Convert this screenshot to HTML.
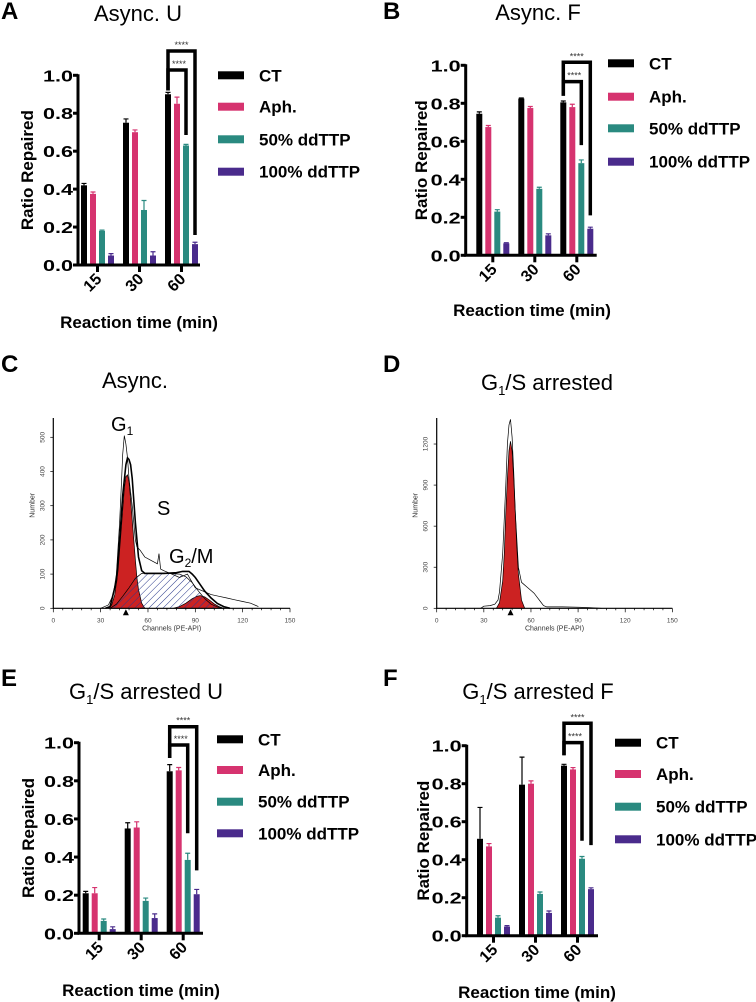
<!DOCTYPE html>
<html><head><meta charset="utf-8">
<style>
html,body{margin:0;padding:0;background:#fff;}
svg{display:block;font-family:"Liberation Sans",Arial,sans-serif;}
</style></head>
<body>
<svg id="fig" width="756" height="1002" viewBox="0 0 756 1002" xmlns="http://www.w3.org/2000/svg">
<defs>
<pattern id="hatch" patternUnits="userSpaceOnUse" width="5" height="5" patternTransform="rotate(45)">
<line x1="0" y1="0" x2="0" y2="5" stroke="#2b3a8c" stroke-width="1"/>
</pattern>
</defs>
</svg>
<script>
// ---------- shared data ----------
const groups = ['15','30','60'];
const seriesNames = ['CT','Aph.','50% ddTTP','100% ddTTP'];
const seriesColors = ['#000000','#d6336f','#2a8a80','#4a2b8c'];
const yTicks = [0,0.2,0.4,0.6,0.8,1.0];
const yTickLabels = ['0.0','0.2','0.4','0.6','0.8','1.0'];

// Panel A
const aCT=[0.42,0.75,0.90], aCTerr=[0.01,0.02,0.01];
const aAph=[0.375,0.70,0.85], aAphErr=[0.01,0.012,0.035];
const a50=[0.18,0.29,0.63], a50Err=[0.004,0.05,0.006];
const a100=[0.05,0.05,0.11], a100Err=[0.01,0.02,0.01];
const aBrackets=[1.128,1.028,0.92,0.685,0.158];
// Panel B
const bCT=[0.745,0.825,0.805], bCTerr=[0.01,0.003,0.007];
const bAph=[0.675,0.775,0.78], bAphErr=[0.008,0.008,0.015];
const b50=[0.23,0.35,0.485], b50Err=[0.01,0.008,0.017];
const b100=[0.063,0.105,0.14], b100Err=[0.003,0.008,0.008];
const bBrackets=[1.016,0.914,0.84,0.58,0.21];
// Panel E
const eCT=[0.21,0.55,0.85], eCTerr=[0.01,0.03,0.035];
const eAph=[0.21,0.555,0.855], eAphErr=[0.03,0.03,0.015];
const e50=[0.065,0.17,0.385], e50Err=[0.01,0.015,0.035];
const e100=[0.022,0.08,0.205], e100Err=[0.012,0.022,0.025];
const eBrackets=[1.084,0.988,0.92,0.525,0.33];
// Panel F
const fCT=[0.51,0.795,0.895], fCTerr=[0.165,0.145,0.007];
const fAph=[0.47,0.80,0.875], fAphErr=[0.015,0.015,0.01];
const f50=[0.095,0.22,0.405], f50Err=[0.01,0.01,0.012];
const f100=[0.048,0.12,0.245], f100Err=[0.005,0.01,0.007];
const fBrackets=[1.118,1.016,0.95,0.50,0.477];

// Flow C (channel, count)
const cDataX=[30,35,38,40,42,43,44,45,46,47,48,50,52,53,55,58,62,66,67,68,70,75,80,85,90,95,100,105,110,115,120,125,130];
const cDataY=[0,10,40,100,250,350,450,505,480,440,380,300,200,180,170,150,140,130,160,115,110,100,90,100,60,50,40,35,30,25,20,15,5];
const cModelX=[33,36,40,42,44,46,47,48,49,50,52,54,56,58,62,70,78,82,86,88,90,93,96,100,104,108,112];
const cModelY=[0,5,80,200,330,420,440,435,420,380,250,150,110,102,102,102,104,108,108,100,90,70,50,30,14,5,0];
const cG1X=[35,37,39,41,43,45,46,47,48,49,50,51,52,53,54,56,58];
const cG1Y=[0,10,40,110,230,350,385,390,370,320,260,200,140,90,55,15,0];
const cSX=[36,40,44,48,52,56,60,70,80,84,88,92,96,100,104,108];
const cSY=[0,12,35,60,88,102,103,103,100,92,75,50,28,12,4,0];
const cG2X=[76,80,84,88,91,93,96,99,102,105,108];
const cG2Y=[0,5,15,28,35,37,33,24,13,5,0];
const cYTicks=[0,100,200,300,400,500];
const flowXTicks=[0,30,60,90,120,150];
// Flow D
const dDataX=[28,30,34,37,39,40,42,44,45,46,47,48,49,50,52,54,55,57,60,62,64,66,68,70,75,80,90,95,100,105];
const dDataY=[0,15,20,30,60,120,400,900,1200,1340,1380,1250,1000,700,300,190,180,160,130,110,80,50,20,10,10,10,8,6,3,0];
const dG1X=[38,40,42,43,44,45,46,47,48,49,50,51,52,54,56];
const dG1Y=[0,40,200,400,700,950,1150,1220,1150,950,700,450,250,60,0];
const dYTicks=[0,300,600,900,1200];

const NS='http://www.w3.org/2000/svg';
const svg=document.getElementById('fig');
function el(tag,attrs,parent){const e=document.createElementNS(NS,tag);for(const k in attrs)e.setAttribute(k,attrs[k]);(parent||svg).appendChild(e);return e;}
function txt(str,attrs,parent){const t=el('text',attrs,parent);t.textContent=str;return t;}

// ---------- bar panels ----------
function barPanel(cfg){
  const g=el('g',{});
  
  
  const yS=v=>cfg.y0-(cfg.y0-cfg.y1)*v;
  const barX=(gi,si)=>cfg.first+gi*42+si*9;
  const L=txt(cfg.letter,{x:cfg.letterX,y:cfg.letterY,'font-size':24,'font-weight':'bold'},g);
  
  
  const T=txt(cfg.title,{x:cfg.titleX,y:cfg.titleY,'font-size':22,'text-anchor':'middle'},g);
  
  
  if(cfg.sub){T.textContent='';const t1=el('tspan',{},T);t1.textContent='G';const t2=el('tspan',{'font-size':13,dy:5},T);t2.textContent='1';const t3=el('tspan',{dy:-5},T);t3.textContent=cfg.title.slice(2);}
  // bars
  cfg.vals.forEach((arr,si)=>{
    arr.forEach((v,gi)=>{
      const cx=barX(gi,si);
      const b=el('rect',{x:cx-3,y:yS(v),width:6,height:cfg.y0-yS(v),fill:seriesColors[si]},g);
      
      
      const e=cfg.errs[si][gi];
      const eb=el('path',{d:`M${cx} ${yS(v)} V${yS(v+e)} M${cx-2.5} ${yS(v+e)} H${cx+2.5}`,stroke:seriesColors[si],'stroke-width':1.2,fill:'none'},g);
      
      
    });
  });
  // axes
  const ax=el('path',{d:`M${cfg.axisX} ${cfg.y1-1} V${cfg.y0} H${cfg.xEnd}`,stroke:'#000','stroke-width':3,fill:'none'},g);
  
  
  yTicks.forEach((v,i)=>{
    const tk=el('line',{x1:cfg.axisX-5,x2:cfg.axisX,y1:yS(v),y2:yS(v),stroke:'#000','stroke-width':3},g);
    
    
    const tl=txt(yTickLabels[i],{x:cfg.axisX-5,y:yS(v)+6,'font-size':16,'font-weight':'bold','text-anchor':'end',textLength:30,lengthAdjust:'spacingAndGlyphs'},g);
    
    
  });
  groups.forEach((lab,gi)=>{
    const cx=barX(gi,0)+13.5;
    const tk=el('line',{x1:cx,x2:cx,y1:cfg.y0,y2:cfg.y0+7,stroke:'#000','stroke-width':3},g);
    
    
    const tl=txt(lab,{x:cx+5,y:cfg.y0+15,'font-size':16,'font-weight':'bold','text-anchor':'end',transform:`rotate(-45 ${cx+5} ${cfg.y0+15})`},g);
    
    
  });
  const yt=txt('Ratio Repaired',{x:0,y:0,'font-size':17,'font-weight':'bold','text-anchor':'middle',transform:`translate(${cfg.yTitleX} ${(cfg.y0+cfg.y1)/2}) rotate(-90)`},g);
  
  
  const xt=txt('Reaction time (min)',{x:cfg.xTitleX,y:cfg.xTitleY,'font-size':17,'font-weight':'bold','text-anchor':'middle'},g);
  
  
  // legend
  seriesNames.forEach((n,si)=>{
    const sw=el('rect',{x:cfg.legX,y:cfg.legY[si]-4,width:26,height:8,fill:seriesColors[si]},g);
    
    
    const lt=txt(n,{x:cfg.legX+41,y:cfg.legY[si]+6,'font-size':17,'font-weight':'bold'},g);
    
    
  });
  // significance brackets
  const br=cfg.brackets;
  const xCT=barX(2,0), x50=barX(2,2), x100=barX(2,3);
  const o=el('path',{d:`M${xCT} ${yS(br[2])} V${yS(br[0])} H${x100} V${yS(br[4])}`,stroke:'#000','stroke-width':3.5,fill:'none'},g);
  
  
  const inn=el('path',{d:`M${xCT} ${yS(br[2])} V${yS(br[1])} H${x50} V${yS(br[3])}`,stroke:'#000','stroke-width':3.5,fill:'none'},g);
  
  
  const s1=txt('****',{x:(xCT+x100)/2,y:yS(br[0])-3,'font-size':9,'text-anchor':'middle',fill:'#333'},g);
  
  
  const s2=txt('****',{x:(xCT+x50)/2+2,y:yS(br[1])-3,'font-size':9,'text-anchor':'middle',fill:'#333'},g);
  
  
}

barPanel({name:'panel-a',letter:'A',letterX:1,letterY:19,title:'Async. U',titleX:138,titleY:21,axisX:78,y0:265,y1:75.3,xEnd:200,first:84,
  legX:218,legY:[75.3,106.7,139.3,171.7],yTitleX:33,xTitleX:139,xTitleY:328,
  vals:[aCT,aAph,a50,a100],errs:[aCTerr,aAphErr,a50Err,a100Err],brackets:aBrackets});
barPanel({name:'panel-b',letter:'B',letterX:383,letterY:19,title:'Async. F',titleX:538,titleY:20,axisX:465.7,y0:255.3,y1:65.3,xEnd:596.7,first:479.3,
  legX:608,legY:[63.3,96.7,128.3,161.7],yTitleX:427,xTitleX:532,xTitleY:316,
  vals:[bCT,bAph,b50,b100],errs:[bCTerr,bAphErr,b50Err,b100Err],brackets:bBrackets});
barPanel({name:'panel-e',letter:'E',letterX:1,letterY:686,title:'G1/S arrested U',sub:true,titleX:146,titleY:699,axisX:79,y0:933.3,y1:742.7,xEnd:203,first:85.7,
  legX:217,legY:[739.3,770,801.7,833.3],yTitleX:34,xTitleX:141,xTitleY:996,
  vals:[eCT,eAph,e50,e100],errs:[eCTerr,eAphErr,e50Err,e100Err],brackets:eBrackets});
barPanel({name:'panel-f',letter:'F',letterX:383,letterY:686,title:'G1/S arrested F',sub:true,titleX:538,titleY:699,axisX:466.7,y0:935.7,y1:745.7,xEnd:598,first:480,
  legX:615,legY:[742.7,774,806.7,839.3],yTitleX:429,xTitleX:537,xTitleY:998,
  vals:[fCT,fAph,f50,f100],errs:[fCTerr,fAphErr,f50Err,f100Err],brackets:fBrackets});

// ---------- flow panels ----------
function flowPanel(cfg){
  const g=el('g',{});
  
  
  const xS=c=>cfg.x0+c*cfg.kx, yS=n=>cfg.y0-n*cfg.ky;
  const poly=(xs,ys)=>xs.map((x,i)=>(i?'L':'M')+xS(x).toFixed(1)+' '+yS(ys[i]).toFixed(1)).join(' ');
  const L=txt(cfg.letter,{x:cfg.letterX,y:cfg.letterY,'font-size':24,'font-weight':'bold'},g);
  
  
  const T=txt('',{x:cfg.titleX,y:cfg.titleY,'font-size':22,'text-anchor':'middle'},g);
  
  
  if(cfg.sub){const a=el('tspan',{},T);a.textContent='G';const b=el('tspan',{'font-size':13,dy:5},T);b.textContent='1';const c=el('tspan',{dy:-5},T);c.textContent='/S arrested';}else T.textContent=cfg.title;
  // G1 red
  const r=el('path',{d:poly(cfg.g1x,cfg.g1y)+' Z',fill:'#cc2222',stroke:'#000','stroke-width':0.7},g);
  
  
  if(cfg.g2x){
    const r2=el('path',{d:poly(cfg.g2x,cfg.g2y)+' Z',fill:'#cc2222',stroke:'#000','stroke-width':0.7},g);
    
    
  }
  if(cfg.sx){
    const s=el('path',{d:poly(cfg.sx,cfg.sy)+' Z',fill:'url(#hatch)',stroke:'#000','stroke-width':0.7},g);
    
    
  }
  if(cfg.mx){
    const m=el('path',{d:poly(cfg.mx,cfg.my),fill:'none',stroke:'#000','stroke-width':1.6},g);
    
    
  }
  const d=el('path',{d:poly(cfg.dx,cfg.dy),fill:'none',stroke:'#000','stroke-width':0.7},g);
  
  
  // axes
  const ax=el('path',{d:`M${cfg.x0} ${cfg.top} V${cfg.y0} H${xS(150)}`,stroke:'#000','stroke-width':1.2,fill:'none'},g);
  
  
  for(let c=0;c<=150;c+=6){
    const mt=el('line',{x1:xS(c),x2:xS(c),y1:cfg.y0,y2:cfg.y0+(c%30?2:4),stroke:'#000','stroke-width':0.7},g);
    
    
  }
  flowXTicks.forEach(c=>{
    const tl=txt(String(c),{x:xS(c),y:cfg.y0+14,'font-size':6.5,'text-anchor':'middle',fill:'#444'},g);
    
    
  });
  cfg.yt.forEach(n=>{
    const tk=el('line',{x1:cfg.x0-3,x2:cfg.x0,y1:yS(n),y2:yS(n),stroke:'#000','stroke-width':0.7},g);
    
    
    const tl=txt(String(n),{x:0,y:0,'font-size':6.5,'text-anchor':'middle',fill:'#444',transform:`translate(${cfg.x0-9} ${yS(n)}) rotate(-90)`},g);
    
    
  });
  const mk=el('path',{d:`M${xS(cfg.marker)-3} ${cfg.y0+7} L${xS(cfg.marker)} ${cfg.y0+1} L${xS(cfg.marker)+3} ${cfg.y0+7} Z`,fill:'#000'},g);
  
  
  const xt=txt('Channels (PE-API)',{x:xS(75),y:cfg.y0+22,'font-size':7,'text-anchor':'middle',fill:'#333'},g);
  
  
  const yt=txt('Number',{x:0,y:0,'font-size':7,'text-anchor':'middle',fill:'#333',transform:`translate(${cfg.x0-19} ${cfg.y0-103}) rotate(-90)`},g);
  
  
  return g;
}
const gc=flowPanel({name:'panel-c',letter:'C',letterX:1,letterY:372,title:'Async.',titleX:135,titleY:388,x0:53.3,y0:608.3,kx:1.578,ky:0.342,top:418,
  dx:cDataX,dy:cDataY,mx:cModelX,my:cModelY,g1x:cG1X,g1y:cG1Y,sx:cSX,sy:cSY,g2x:cG2X,g2y:cG2Y,yt:cYTicks,marker:46});
const lg1=txt('',{x:111,y:431,'font-size':20},gc);


{const a=el('tspan',{},lg1);a.textContent='G';const b=el('tspan',{'font-size':12,dy:4},lg1);b.textContent='1';}
const ls=txt('S',{x:157,y:515,'font-size':20},gc);


const lg2=txt('',{x:169,y:563,'font-size':20},gc);


{const a=el('tspan',{},lg2);a.textContent='G';const b=el('tspan',{'font-size':12,dy:4},lg2);b.textContent='2';const c=el('tspan',{dy:-4},lg2);c.textContent='/M';}
flowPanel({name:'panel-d',letter:'D',letterX:383,letterY:372,title:'G1/S arrested',sub:true,titleX:547,titleY:390,x0:436.7,y0:608.3,kx:1.571,ky:0.1369,top:418,
  dx:dDataX,dy:dDataY,g1x:dG1X,g1y:dG1Y,yt:dYTicks,marker:47});
</script>
</body></html>
